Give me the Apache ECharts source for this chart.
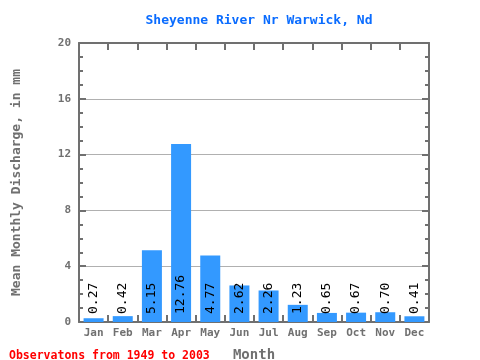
<!DOCTYPE html>
<html><head><meta charset="utf-8">
<script src="https://cdn.jsdelivr.net/npm/echarts@6/dist/echarts.min.js"></script>
<style>html,body{margin:0;padding:0;background:#fff}#c{width:480px;height:360px}</style>
</head><body><div id="c"></div>
<script>
const months = ['Jan','Feb','Mar','Apr','May','Jun','Jul','Aug','Sep','Oct','Nov','Dec'];
const discharge = [0.27, 0.42, 5.15, 12.76, 4.77, 2.62, 2.26, 1.23, 0.65, 0.67, 0.70, 0.41];
const yTicks = [0, 4, 8, 12, 16, 20];
const titleText = 'Sheyenne River Nr Warwick, Nd';
const footText = 'Observatons from 1949 to 2003';

const mono = 'DejaVu Sans Mono';
const gray = '#707070';
const chart = echarts.init(document.getElementById('c'), null, {renderer: 'canvas'});
const yBase = {
  type: 'value', min: yTicks[0], max: yTicks[yTicks.length - 1], interval: 4,
  axisLine: {show: true, onZero: false, lineStyle: {color: gray, width: 2}},
  axisTick: {show: true, inside: true, length: 7, lineStyle: {color: gray, width: 2}},
  minorTick: {show: true, splitNumber: 4, length: 4, lineStyle: {color: gray, width: 2}}
};
const xTick = () => ({show: true, inside: true, interval: 0, length: 7, lineStyle: {color: gray, width: 2}});
chart.setOption({
  animation: false,
  title: [{
    text: titleText, left: 254, textAlign: 'center', top: 9,
    textStyle: {fontFamily: mono, fontSize: 13, fontWeight: 'bold', color: '#0a6cff'}
  }, {
    text: footText, left: 4, top: 345,
    textStyle: {fontFamily: mono, fontSize: 11.5, fontWeight: 'bold', color: '#ff0000'}
  }],
  grid: {left: 79, right: 51, top: 43, bottom: 38, outerBoundsMode: 'none', containLabel: false},
  xAxis: [{
    type: 'category', data: months, position: 'bottom',
    name: 'Month', nameLocation: 'middle', nameGap: 26,
    nameTextStyle: {fontFamily: mono, fontSize: 14, fontWeight: 'bold', color: gray},
    axisLine: {show: true, onZero: false, lineStyle: {color: gray, width: 2}},
    axisTick: xTick(),
    axisLabel: {fontFamily: mono, fontSize: 11, fontWeight: 'bold', color: gray, margin: 6, interval: 0}
  }, {
    type: 'category', data: months, position: 'top',
    axisLine: {show: true, onZero: false, lineStyle: {color: gray, width: 2}},
    axisTick: xTick(),
    axisLabel: {show: false}
  }],
  yAxis: [Object.assign({}, yBase, {
    position: 'left',
    name: 'Mean Monthly Discharge, in mm', nameLocation: 'middle', nameGap: 56,
    nameTextStyle: {fontFamily: mono, fontSize: 13, fontWeight: 'bold', color: gray},
    axisLabel: {fontFamily: mono, fontSize: 11, fontWeight: 'bold', color: gray, margin: 8},
    splitLine: {show: true, lineStyle: {color: '#b0b0b0', width: 1}}
  }), Object.assign({}, yBase, {
    position: 'right', axisLabel: {show: false}, splitLine: {show: false}
  })],
  series: [{
    type: 'bar', data: discharge, barWidth: 20,
    itemStyle: {color: '#3399ff'},
    label: {
      show: true, position: 'insideBottom', rotate: 90, distance: 8,
      align: 'left', verticalAlign: 'middle',
      formatter: p => p.value.toFixed(2),
      fontFamily: mono, fontSize: 13, color: '#000'
    }
  }]
});
</script></body></html>
